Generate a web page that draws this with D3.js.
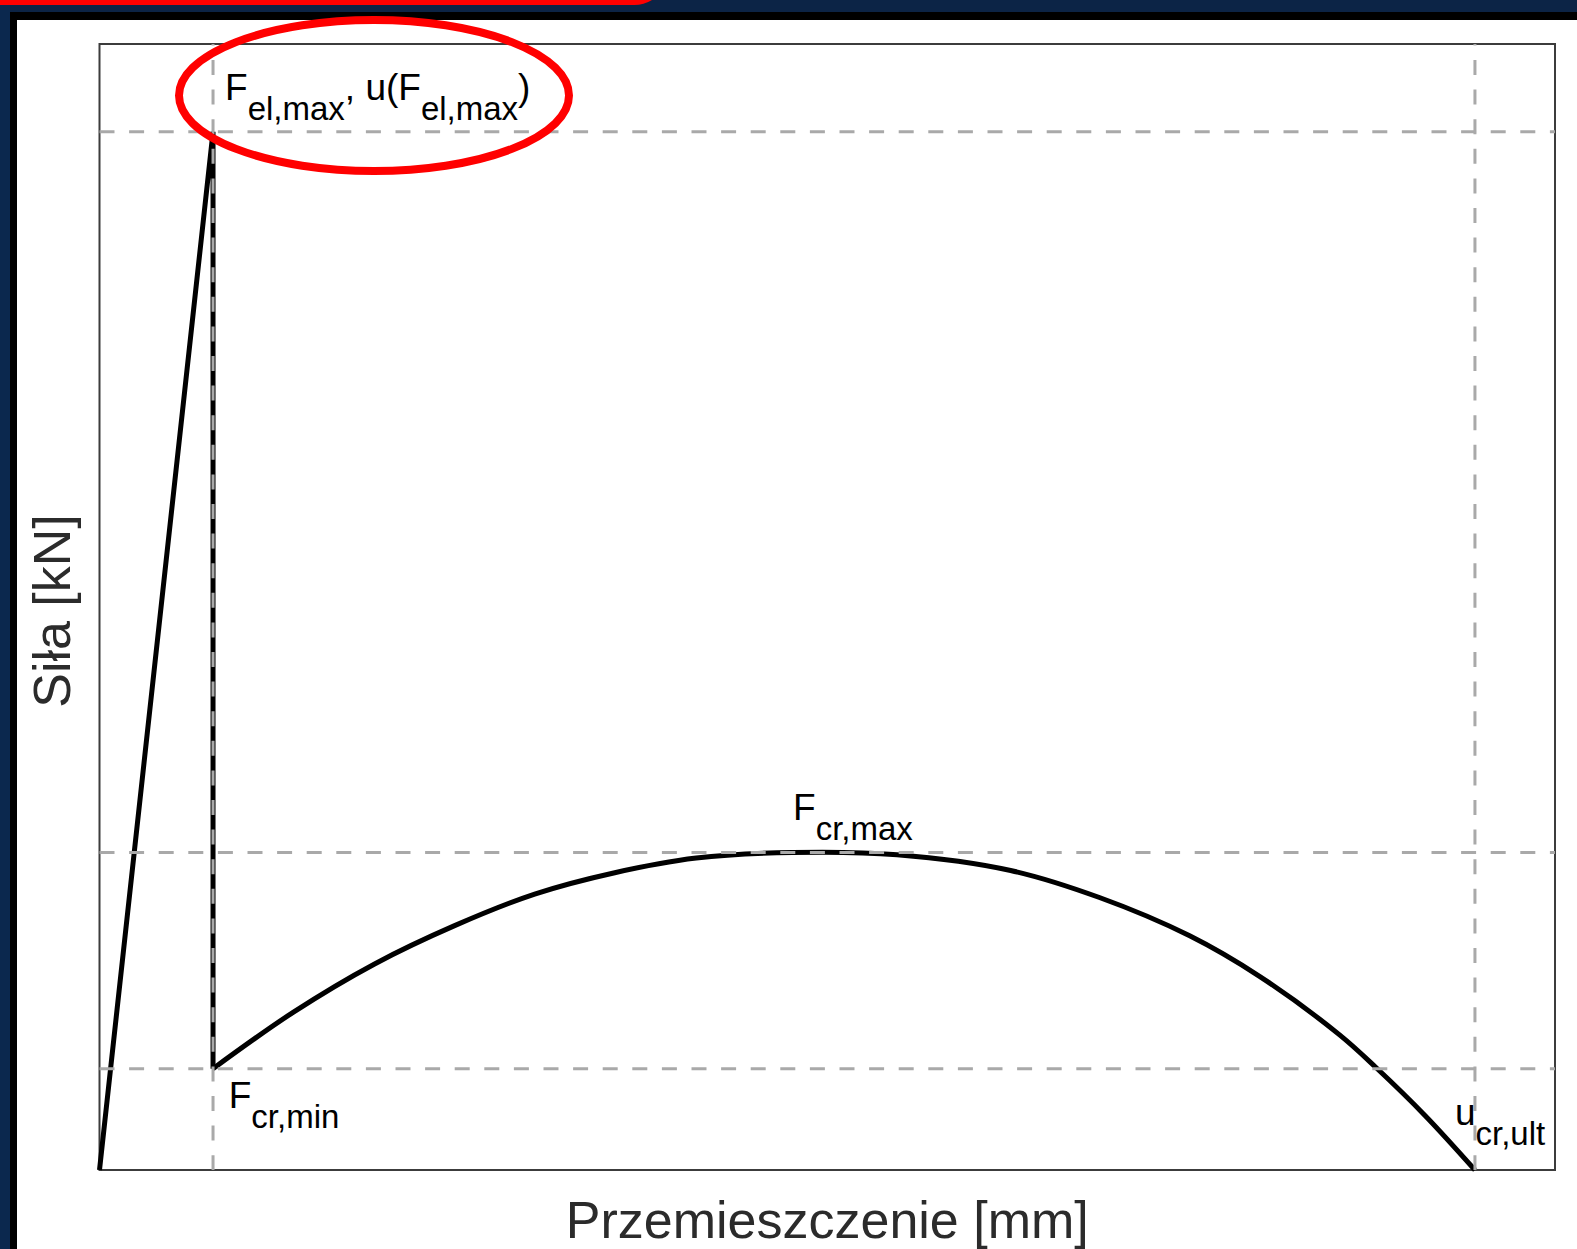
<!DOCTYPE html>
<html>
<head>
<meta charset="utf-8">
<script src="https://cdn.jsdelivr.net/npm/d3@7"></script>
<style>
  html, body { margin: 0; padding: 0; background: #ffffff; }
  svg { display: block; }
  text { font-family: "Liberation Sans", Arial, Helvetica, sans-serif; }
</style>
</head>
<body>
<div id="chart"></div>
<script>
// ---- Data (arbitrary units) ----
// elastic branch: origin -> F_el,max -> drop to F_cr,min
const elasticU = [0, 7.8, 7.8];
const elasticF = [0, 92.2, 9.0];
// post-cracking branch
const crackU = [7.8, 13.3, 18.9, 24.4, 29.9, 35.4, 41.0, 47.6, 54.8, 62.6, 68.7, 74.9, 79.7, 85.2, 87.7, 91.1, 94.5];
const crackF = [9.0, 14.0, 18.3, 21.7, 24.5, 26.4, 27.7, 28.2, 28.0, 26.6, 24.2, 20.8, 17.2, 12.0, 9.1, 4.8, 0.0];
// reference (dashed) lines
const refU = [7.8, 94.5];            // u(F_el,max), u_cr,ult
const refF = [92.2, 28.2, 9.0];      // F_el,max, F_cr,max, F_cr,min
// axis titles
const xTitle = "Przemieszczenie [mm]";
const yTitle = "Siła [kN]";
// point labels: main text, subscript, anchor (u, F)
const labelMain = ["F", "F", "u"];
const labelSub  = ["cr,max", "cr,min", "cr,ult"];
const labelU    = [47.6, 7.8, 94.5];
const labelF    = [28.2, 9.0, 0.0];

// ---- Layout ----
const W = 1577, H = 1249;
const plot = { left: 99.5, right: 1555, top: 44, bottom: 1170 };

const svg = d3.select("#chart").append("svg")
  .attr("width", W).attr("height", H);

// page decoration (slide frame)
svg.append("rect").attr("x", 0).attr("y", 0).attr("width", W).attr("height", H).attr("fill", "#ffffff");
svg.append("rect").attr("x", 0).attr("y", 0).attr("width", W).attr("height", 12).attr("fill", "#0c2446");
svg.append("rect").attr("x", 0).attr("y", 0).attr("width", 10).attr("height", H).attr("fill", "#0b284e");
svg.append("rect").attr("x", 10).attr("y", 12).attr("width", W - 10).attr("height", 8).attr("fill", "#000000");
svg.append("rect").attr("x", 10).attr("y", 12).attr("width", 7).attr("height", H - 12).attr("fill", "#000000");
svg.append("path")
  .attr("d", "M0,0 L652,0 A34,34 0 0 1 634,5 L0,5 Z")
  .attr("fill", "#ff0000");

// ---- Scales ----
const x = d3.scaleLinear().domain([0, 100]).range([plot.left, plot.right]);
const y = d3.scaleLinear().domain([0, 100]).range([plot.bottom, plot.top]);

// frame
svg.append("rect")
  .attr("x", x(0)).attr("y", y(100))
  .attr("width", x(100) - x(0)).attr("height", y(0) - y(100))
  .attr("fill", "none").attr("stroke", "#3c3c3c").attr("stroke-width", 2);

// curves
const line = d3.line().x(d => x(d[0])).y(d => y(d[1]));
const elastic = elasticU.map((u, i) => [u, elasticF[i]]);
const crack = crackU.map((u, i) => [u, crackF[i]]);

svg.append("path")
  .attr("d", line.curve(d3.curveLinear)(elastic))
  .attr("fill", "none").attr("stroke", "#000").attr("stroke-width", 5)
  .attr("stroke-linejoin", "miter").attr("stroke-miterlimit", 4);

svg.append("path")
  .attr("d", line.curve(d3.curveCatmullRom.alpha(0.5))(crack))
  .attr("fill", "none").attr("stroke", "#000").attr("stroke-width", 5);

// dashed reference lines (drawn on top)
const dashes = "15,14.6";
svg.selectAll("line.href").data(refF).enter().append("line")
  .attr("class", "href")
  .attr("x1", x(0)).attr("x2", x(100))
  .attr("y1", d => y(d)).attr("y2", d => y(d))
  .attr("stroke", "#a9a9a9").attr("stroke-width", 3)
  .attr("stroke-dasharray", dashes);

svg.selectAll("line.vref").data(refU).enter().append("line")
  .attr("class", "vref")
  .attr("x1", d => x(d)).attr("x2", d => x(d))
  .attr("y1", y(100)).attr("y2", y(0))
  .attr("stroke", "#a9a9a9").attr("stroke-width", 3)
  .attr("stroke-dasharray", dashes)
  .attr("stroke-dashoffset", 13.6);

// ---- Labels ----
const mainSize = 37, subSize = 33, subShift = 20;
const labelOffsets = [[0.7, -32], [15.7, 39], [-20, -45]];

labelMain.forEach((m, i) => {
  const t = svg.append("text")
    .attr("x", x(labelU[i]) + labelOffsets[i][0])
    .attr("y", y(labelF[i]) + labelOffsets[i][1])
    .attr("font-size", mainSize).attr("fill", "#000");
  t.append("tspan").text(m);
  t.append("tspan").attr("dy", subShift).attr("font-size", subSize).text(labelSub[i]);
});

// F_el,max, u(F_el,max)
{
  const t = svg.append("text")
    .attr("x", x(refU[0]) + 12)
    .attr("y", y(refF[0]) - 32)
    .attr("font-size", mainSize).attr("fill", "#000");
  t.append("tspan").text("F");
  t.append("tspan").attr("dy", subShift).attr("font-size", subSize).text("el,max");
  t.append("tspan").attr("dy", -subShift).text(", u(F");
  t.append("tspan").attr("dy", subShift).attr("font-size", subSize).text("el,max");
  t.append("tspan").attr("dy", -subShift).text(")");
}

// axis titles
svg.append("text")
  .attr("x", (x(0) + x(100)) / 2).attr("y", 1238)
  .attr("text-anchor", "middle").attr("font-size", 52).attr("fill", "#2b2b2b")
  .text(xTitle);

svg.append("text")
  .attr("transform", `translate(70,${(y(0) + y(100)) / 2 + 4}) rotate(-90)`)
  .attr("text-anchor", "middle").attr("font-size", 52).attr("fill", "#2b2b2b")
  .text(yTitle);

// red highlight ellipse around F_el,max annotation
svg.append("ellipse")
  .attr("cx", 374).attr("cy", 95.5).attr("rx", 195).attr("ry", 75.5)
  .attr("fill", "none").attr("stroke", "#ff0000").attr("stroke-width", 8);
</script>
</body>
</html>
